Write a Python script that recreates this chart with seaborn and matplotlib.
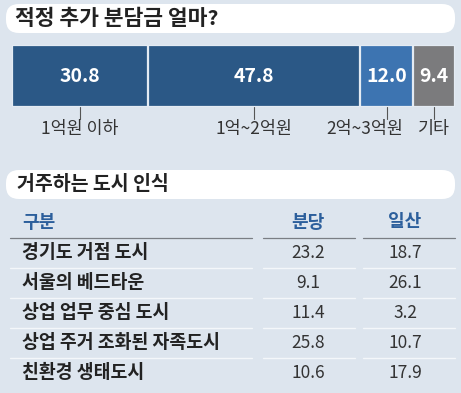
import numpy as np
import matplotlib
matplotlib.use("Agg")
import matplotlib.pyplot as plt
import seaborn as sns
from matplotlib.patches import FancyBboxPatch

# data
share_labels = ["1억원 이하", "1억~2억원", "2억~3억원", "기타"]
share_values = [30.8, 47.8, 12.0, 9.4]
share_colors = ["#2b5886", "#2b5886", "#3d74b1", "#7b7b7d"]

city_items = ["경기도 거점 도시", "서울의 베드타운", "상업 업무 중심 도시",
              "상업 주거 조화된 자족도시", "친환경 생태도시"]
bundang = [23.2, 9.1, 11.4, 25.8, 10.6]
ilsan = [18.7, 26.1, 3.2, 10.7, 17.9]
table_header = ["구분", "분당", "일산"]

title_top = "적정 추가 분담금 얼마?"
title_bottom = "거주하는 도시 인식"

sns.set_theme(style="white")
plt.rcParams["font.family"] = ["Noto Sans CJK KR", "DejaVu Sans"]

BG = "#dde5ee"
W, H = 461, 393
fig = plt.figure(figsize=(W / 100, H / 100), dpi=100, facecolor=BG)

# stacked bar (drawn first so the overlay text sits on top)
bx0, bx1, by0, by1 = 12, 455, 45, 107
ax = fig.add_axes([bx0 / W, 1 - by1 / H, (bx1 - bx0) / W, (by1 - by0) / H])
cum = np.cumsum(share_values)
for i in range(len(cum) - 1, -1, -1):
    sns.barplot(x=[cum[i]], y=[0], orient="h", color=share_colors[i], width=1.0,
                edgecolor="#e4ebf3", linewidth=1.6, saturation=1, ax=ax)
ax.set_xlim(0, cum[-1])
ax.set_ylim(0.5, -0.5)
ax.axis("off")

# overlay axes in pixel coords
base = fig.add_axes([0, 0, 1, 1])
base.set_xlim(0, W)
base.set_ylim(H, 0)
base.axis("off")

for y0 in (4, 170):
    box = FancyBboxPatch((6, y0), 449, 29, boxstyle="round,pad=0,rounding_size=13",
                         fc="white", ec="none")
    base.add_patch(box)
base.text(15, 18.5, title_top, fontsize=15.5, fontweight="bold", color="#222222", va="center")
base.text(17, 184.5, title_bottom, fontsize=14, fontweight="bold", color="#222222", va="center")

starts = cum - np.array(share_values)
label_shift = [0, 0, -22, 0]  # 2억~3억원 label sits left of its tick
for i, (s, v) in enumerate(zip(starts, share_values)):
    xc = bx0 + (s + v / 2) / cum[-1] * (bx1 - bx0)
    base.text(xc, 76, f"{v:.1f}", fontsize=14, fontweight="bold", color="white",
              ha="center", va="center")
    base.plot([xc, xc], [by1, 119], color="#555555", lw=0.8)
    base.text(xc + label_shift[i], 129, share_labels[i], fontsize=12.5, color="#333333",
              ha="center", va="center")

# table
hdr_blue = "#2c5f9c"
col_x = [22, 308, 405]
seg_x = [(10, 252), (263, 355), (363, 455)]
base.text(col_x[0], 222, table_header[0], fontsize=13, fontweight="bold",
          color=hdr_blue, va="center")
for cx, t in zip(col_x[1:], table_header[1:]):
    base.text(cx, 222, t, fontsize=13, fontweight="bold", color=hdr_blue,
              ha="center", va="center")
for a, b in seg_x:
    base.plot([a, b], [237.5, 237.5], color="#7a7e84", lw=0.9)

row_y = [253, 283, 313, 343, 373]
for i, (name, b, s) in enumerate(zip(city_items, bundang, ilsan)):
    y = row_y[i]
    base.text(col_x[0], y, name, fontsize=13.2, fontweight="bold", color="#222222", va="center")
    base.text(col_x[1], y, f"{b:.1f}", fontsize=12.5, color="#333333",
              ha="center", va="center")
    base.text(col_x[2], y, f"{s:.1f}", fontsize=12.5, color="#333333",
              ha="center", va="center")
    if i < len(city_items) - 1:
        for a, c in seg_x:
            base.plot([a, c], [y + 15, y + 15], color="#f4f7fa", lw=1.0)

fig.savefig("out.png", dpi=100, facecolor=BG)
